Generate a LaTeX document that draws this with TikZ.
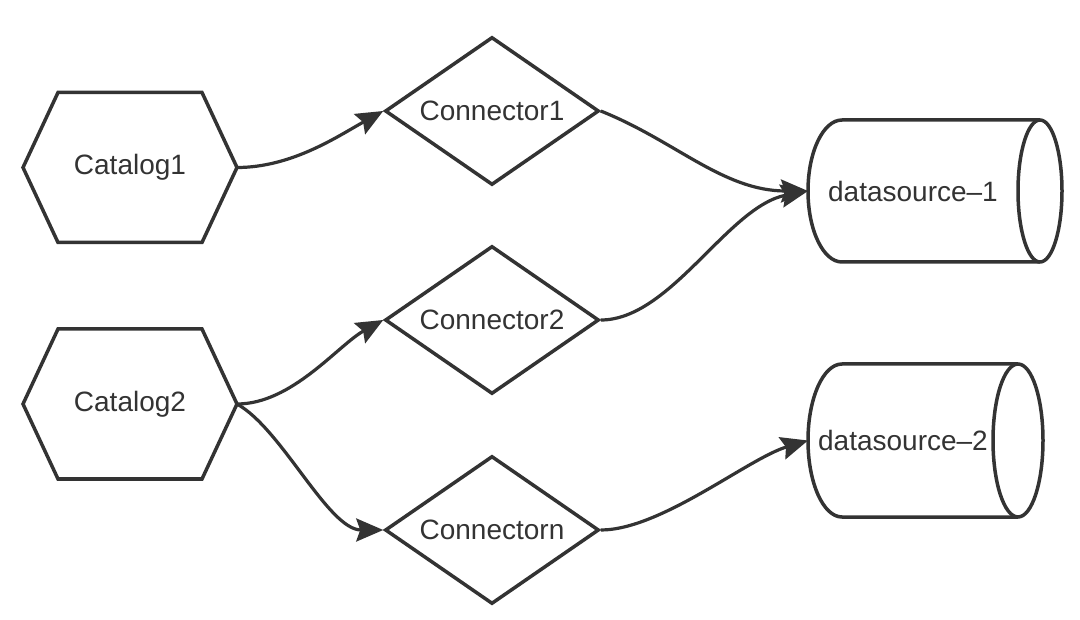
\documentclass[tikz,border=0pt]{standalone}
\usepackage{fontspec}
\setmainfont{Liberation Sans}
\usetikzlibrary{shapes.geometric,arrows.meta}
\definecolor{ink}{HTML}{333333}
\begin{document}
\begin{tikzpicture}[x=1pt,y=-1pt,
  every node/.style={font=\fontsize{28}{33}\selectfont, text=ink},
  hexbox/.style={minimum width=214pt, minimum height=150pt, inner sep=0pt, outer sep=0pt},
  diabox/.style={diamond, draw=ink, line width=3.5pt, minimum width=214pt, minimum height=148pt, inner sep=0pt, aspect=1.45},
  cylbox/.style={inner sep=0pt, outer sep=0pt},
  shapeline/.style={draw=ink, line width=3.5pt, line join=miter},
  link/.style={draw=ink, line width=3.2pt, -{Stealth[length=27pt,width=23pt,inset=4pt]}},
]
\useasboundingbox (0,0) rectangle (1080,620);

% hexagons
\node[hexbox] (cat1) at (130,167.5) {Catalog1};
\node[hexbox] (cat2) at (130,404) {Catalog2};
\foreach \h in {cat1,cat2}{
  \draw[shapeline] (\h.west) -- ([xshift=35pt]\h.north west) -- ([xshift=-35pt]\h.north east)
    -- (\h.east) -- ([xshift=-35pt]\h.south east) -- ([xshift=35pt]\h.south west) -- cycle;
}

% diamonds
\node[diabox] (con1) at (492,111) {Connector1};
\node[diabox] (con2) at (492,320) {Connector2};
\node[diabox] (conn) at (492,530) {Connectorn};

% cylinders
\node[cylbox, minimum width=210pt, minimum height=142pt] (ds1) at (913,191) {datasource–1};
\draw[shapeline] ([xshift=34pt]ds1.north west) arc[start angle=-90,end angle=-270,x radius=34,y radius=71]
  -- (1040,262) arc[start angle=90,end angle=-90,x radius=22,y radius=71] -- cycle;
\draw[shapeline] (1040,120) arc[start angle=-90,end angle=-270,x radius=22,y radius=71];

\node[cylbox, minimum width=190pt, minimum height=153pt] (ds2) at (903,440.5) {datasource–2};
\draw[shapeline] ([xshift=34pt]ds2.north west) arc[start angle=-90,end angle=-270,x radius=34,y radius=76.5]
  -- (1018,517) arc[start angle=90,end angle=-90,x radius=25,y radius=76.5] -- cycle;
\draw[shapeline] (1018,364) arc[start angle=-90,end angle=-270,x radius=25,y radius=76.5];

% connectors
\draw[link] (cat1.east) .. controls +(55,0) and +(-45,25) .. (con1.west);
\draw[link] (cat2.east) .. controls +(55,0) and +(-45,25) .. (con2.west);
\draw[link] (cat2.east) .. controls +(45,25) and +(-55,0) .. (conn.west);
\draw[link] (con1.east) .. controls +(75,30) and +(-85,0) .. (ds1.west);
\draw[link] (con2.east) .. controls +(70,0) and +(-80,15) .. (ds1.west);
\draw[link] (conn.east) .. controls +(60,0) and +(-60,18) .. (ds2.west);
\end{tikzpicture}
\end{document}
